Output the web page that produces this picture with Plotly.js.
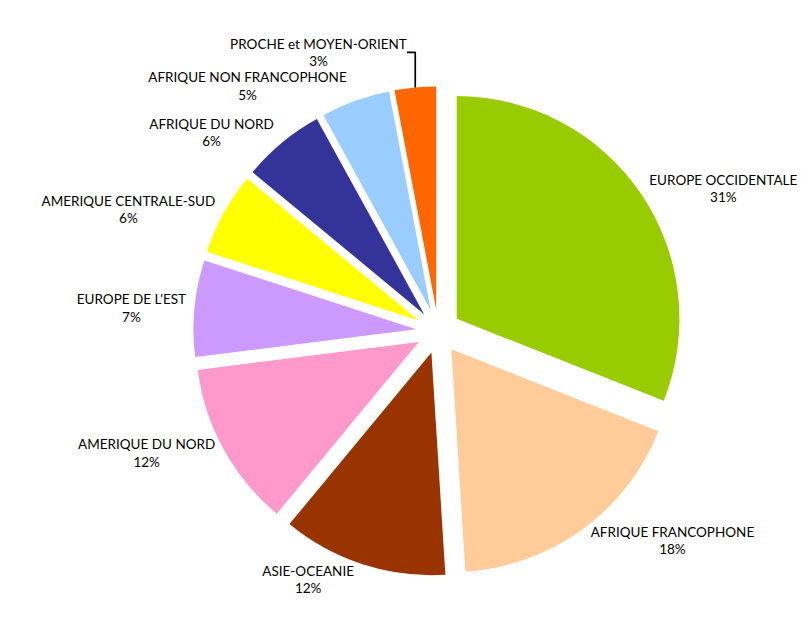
<!DOCTYPE html>
<html>
<head>
<meta charset="utf-8">
<script src="https://cdn.plot.ly/plotly-3.0.1.min.js"></script>
<style>
  html, body { margin: 0; padding: 0; background: #fff; }
  #plot { width: 802px; height: 621px; }
</style>
</head>
<body>
<div id="plot"></div>
<script>
// Regions, clockwise from 12 o'clock
let regions = [
  "EUROPE OCCIDENTALE",
  "AFRIQUE FRANCOPHONE",
  "ASIE-OCEANIE",
  "AMERIQUE DU NORD",
  "EUROPE DE L'EST",
  "AMERIQUE CENTRALE-SUD",
  "AFRIQUE DU NORD",
  "AFRIQUE NON FRANCOPHONE",
  "PROCHE et MOYEN-ORIENT"
]
let shares = [31, 18, 12, 12, 7, 6, 6, 5, 3]
let colors = ["#99CC00", "#FFCC99", "#993300", "#FF99CC", "#CC99FF",
              "#FFFF00", "#333399", "#99CCFF", "#FF6600"]

let trace = {
  type: "pie",
  labels: regions,
  values: shares,
  sort: false,
  direction: "clockwise",
  rotation: 0,
  pull: regions.map(() => 0.1),
  marker: { colors: colors, line: { width: 0 } },
  texttemplate: "%{label}<br>%{percent:.0%}",
  textposition: "outside",
  outsidetextfont: { family: "Lato, 'Open Sans', sans-serif", size: 13.5, color: "#000" },
  hoverinfo: "label+percent",
  showlegend: false,
  domain: { x: [0.241, 0.852], y: [0.072, 0.861] }
};

let layout = {
  width: 802,
  height: 621,
  margin: { l: 0, r: 0, t: 0, b: 0 },
  paper_bgcolor: "#fff",
  showlegend: false
};

Plotly.newPlot("plot", [trace], layout, { displayModeBar: false });
</script>
</body>
</html>
